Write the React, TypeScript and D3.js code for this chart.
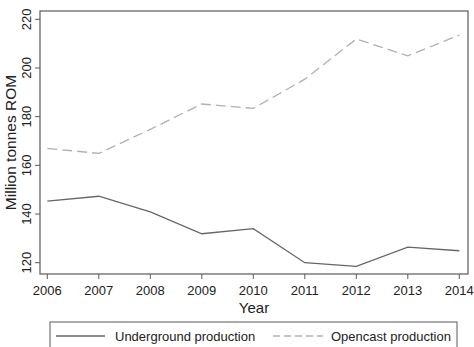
import { useEffect, useRef } from "react";
import * as d3 from "d3";

const years = [2006, 2007, 2008, 2009, 2010, 2011, 2012, 2013, 2014];
const underground = [145.3, 147.3, 140.9, 131.9, 134.0, 120.0, 118.5, 126.4, 124.9];
const opencast = [167.0, 164.9, 174.8, 185.2, 183.4, 195.4, 211.9, 205.0, 213.5];
const yTicks = [120, 140, 160, 180, 200, 220];

const W = 474;
const H = 347;
const FONT = "'Liberation Sans', Arial, sans-serif";

export default function App() {
  const ref = useRef<SVGSVGElement | null>(null);

  useEffect(() => {
    if (!ref.current) return;
    const svg = d3.select(ref.current);
    svg.selectAll("*").remove();

    const left = 40;
    const right = 468;
    const top = 11;
    const bottom = 274;

    const x = d3.scaleLinear().domain([2006, 2014]).range([47.3, 459.3]);
    const y = d3.scaleLinear().domain([120, 220]).range([262.7, 19.3]);

    // plot frame
    svg
      .append("rect")
      .attr("x", left)
      .attr("y", top)
      .attr("width", right - left)
      .attr("height", bottom - top)
      .attr("fill", "none")
      .attr("stroke", "#5a5a5a")
      .attr("stroke-width", 1.2);

    // y axis
    const yAxis = svg.append("g");
    yAxis
      .selectAll("line")
      .data(yTicks)
      .join("line")
      .attr("x1", left - 5)
      .attr("x2", left)
      .attr("y1", (d) => y(d))
      .attr("y2", (d) => y(d))
      .attr("stroke", "#5a5a5a");
    yAxis
      .selectAll("text")
      .data(yTicks)
      .join("text")
      .attr("transform", (d) => `translate(${left - 9.5},${y(d)}) rotate(-90)`)
      .attr("text-anchor", "middle")
      .attr("font-family", FONT)
      .attr("font-size", 13)
      .attr("fill", "#222")
      .text((d) => d);

    svg
      .append("text")
      .attr("transform", `translate(16,${(top + bottom) / 2}) rotate(-90)`)
      .attr("text-anchor", "middle")
      .attr("font-family", FONT)
      .attr("font-size", 15.5)
      .attr("fill", "#222")
      .text("Million tonnes ROM");

    // x axis
    const xAxis = svg.append("g");
    xAxis
      .selectAll("line")
      .data(years)
      .join("line")
      .attr("x1", (d) => x(d))
      .attr("x2", (d) => x(d))
      .attr("y1", bottom)
      .attr("y2", bottom + 5)
      .attr("stroke", "#5a5a5a");
    xAxis
      .selectAll("text")
      .data(years)
      .join("text")
      .attr("x", (d) => x(d))
      .attr("y", 295)
      .attr("text-anchor", "middle")
      .attr("font-family", FONT)
      .attr("font-size", 13)
      .attr("fill", "#222")
      .text((d) => d);

    svg
      .append("text")
      .attr("x", (left + right) / 2)
      .attr("y", 312.5)
      .attr("text-anchor", "middle")
      .attr("font-family", FONT)
      .attr("font-size", 15)
      .attr("fill", "#222")
      .text("Year");

    const line = d3
      .line<number>()
      .x((_, i) => x(years[i]))
      .y((d) => y(d));

    svg
      .append("path")
      .attr("d", line(underground))
      .attr("fill", "none")
      .attr("stroke", "#666")
      .attr("stroke-width", 1.3);

    svg
      .append("path")
      .attr("d", line(opencast))
      .attr("fill", "none")
      .attr("stroke", "#b0b0b0")
      .attr("stroke-width", 1.3)
      .attr("stroke-dasharray", "10,5");

    // legend
    const lg = svg.append("g");
    lg.append("rect")
      .attr("x", 50)
      .attr("y", 322)
      .attr("width", 407)
      .attr("height", 40)
      .attr("fill", "none")
      .attr("stroke", "#5a5a5a");
    lg.append("line")
      .attr("x1", 56)
      .attr("x2", 105)
      .attr("y1", 336)
      .attr("y2", 336)
      .attr("stroke", "#666")
      .attr("stroke-width", 1.3);
    lg.append("text")
      .attr("x", 115)
      .attr("y", 340.5)
      .attr("font-family", FONT)
      .attr("font-size", 13)
      .attr("fill", "#222")
      .text("Underground production");
    lg.append("line")
      .attr("x1", 273)
      .attr("x2", 323)
      .attr("y1", 336)
      .attr("y2", 336)
      .attr("stroke", "#b0b0b0")
      .attr("stroke-width", 1.3)
      .attr("stroke-dasharray", "7,4");
    lg.append("text")
      .attr("x", 331)
      .attr("y", 340.5)
      .attr("font-family", FONT)
      .attr("font-size", 13)
      .attr("fill", "#222")
      .text("Opencast production");
  }, []);

  return (
    <svg
      ref={ref}
      width={W}
      height={H}
      style={{ position: "absolute", left: 0, top: 0, background: "#fff" }}
    />
  );
}
